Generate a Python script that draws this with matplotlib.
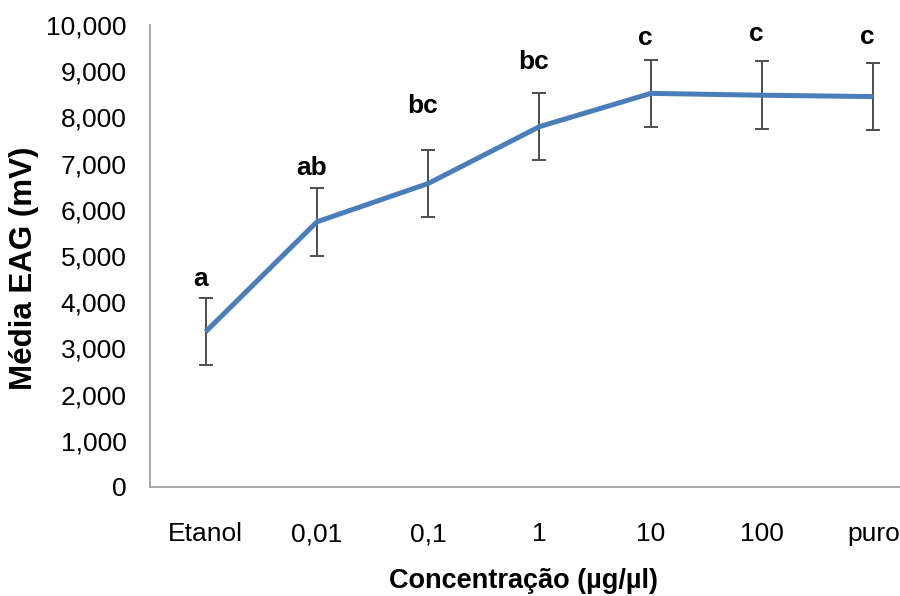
import matplotlib
matplotlib.use("Agg")
import matplotlib.pyplot as plt

# Chart data
concentrations = ["Etanol", "0,01", "0,1", "1", "10", "100", "puro"]
mean_eag = [3360, 5740, 6570, 7800, 8520, 8480, 8450]
err_eag = [730, 740, 730, 720, 720, 730, 730]
letters = ["a", "ab", "bc", "bc", "c", "c", "c"]
letter_y = [4500, 6900, 8240, 9200, 9710, 9800, 9740]

plt.rcParams["font.family"] = ["Liberation Sans", "DejaVu Sans"]

fig = plt.figure(figsize=(9, 5.96), dpi=100)
# category axis runs past the right edge, like the original
ax = fig.add_axes([150 / 900, 1 - 487 / 596, 779 / 900, 462 / 596])

x = list(range(len(concentrations)))
ax.errorbar(x, mean_eag, yerr=err_eag, fmt="none", ecolor="#4d4d4d",
            elinewidth=1.4, capsize=4.7, capthick=1.4, zorder=2)
ax.plot(x, mean_eag, color="#4a7ebb", linewidth=3.6,
        solid_joinstyle="round", solid_capstyle="butt", zorder=3)

for xi, lab, ly in zip(x, letters, letter_y):
    ax.text(xi - 0.05, ly, lab, ha="center", va="center",
            fontsize=19, fontweight="bold")

ax.set_xlim(-0.5, len(concentrations) - 0.5)
ax.set_ylim(0, 10000)
ax.set_yticks(range(0, 10001, 1000))
ax.set_yticklabels([f"{v:,}" for v in range(0, 10001, 1000)], fontsize=19)
ax.set_xticks(x)
ax.set_xticklabels(concentrations, fontsize=19)
for lbl in ax.get_xticklabels():
    lbl.set_verticalalignment("baseline")  # keep "0,01" level with "Etanol"
ax.tick_params(axis="both", length=0)
ax.tick_params(axis="y", pad=17)
ax.tick_params(axis="x", pad=39)

for side in ("top", "right"):
    ax.spines[side].set_visible(False)
for side in ("left", "bottom"):
    ax.spines[side].set_color("#a0a0a0")
    ax.spines[side].set_linewidth(1.3)

ax.set_ylabel("Média EAG (mV)", fontsize=22.5, fontweight="bold")
ax.yaxis.set_label_coords(-0.143, 0.474)
ax.set_xlabel("Concentração (µg/µl)", fontsize=19.5, fontweight="bold")
ax.xaxis.set_label_coords(0.479, -0.175)

fig.savefig("out.png", dpi=100)
